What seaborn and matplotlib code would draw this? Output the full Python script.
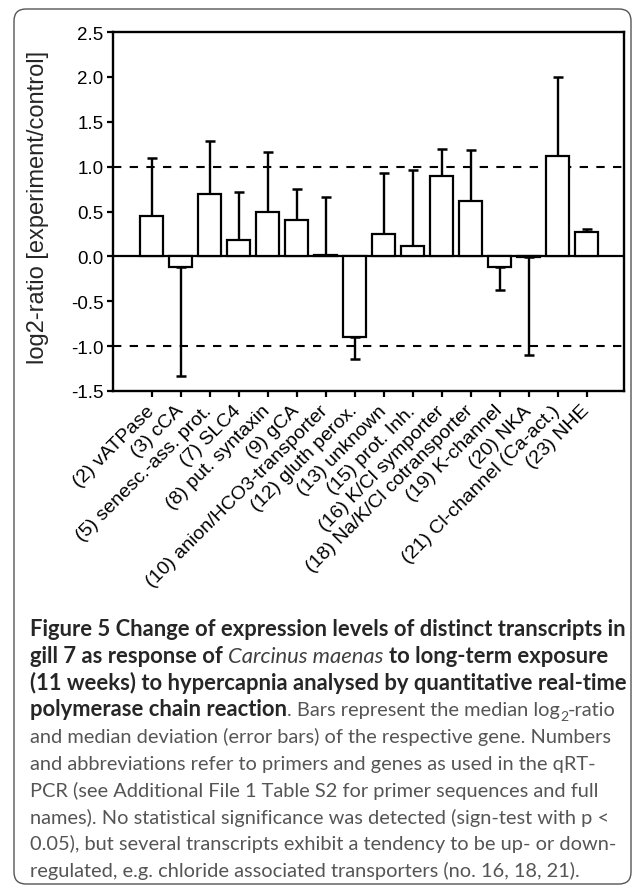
import numpy as np
import pandas as pd
import matplotlib
matplotlib.use("Agg")
import matplotlib.pyplot as plt
import seaborn as sns
from matplotlib.patches import FancyBboxPatch
from matplotlib.transforms import IdentityTransform

# ---------------- data ----------------
genes = ["(2) vATPase", "(3) cCA", "(5) senesc.-ass. prot.", "(7) SLC4",
         "(8) put. syntaxin", "(9) gCA", "(10) anion/HCO3-transporter",
         "(12) gluth perox.", "(13) unknown", "(15) prot. Inh.",
         "(16) K/Cl symporter", "(18) Na/K/Cl cotransporter", "(19) K-channel",
         "(20) NKA", "(21) Cl-channel (Ca-act.)", "(23) NHE"]
median_ratio = [0.45, -0.12, 0.69, 0.18, 0.49, 0.40, 0.02, -0.90,
                0.25, 0.12, 0.90, 0.62, -0.12, -0.01, 1.12, 0.27]
median_dev = [0.65, 1.21, 0.59, 0.54, 0.67, 0.35, 0.64, 0.24,
              0.68, 0.84, 0.30, 0.57, 0.26, 1.09, 0.88, 0.03]
y_ticks = [-1.5, -1.0, -0.5, 0.0, 0.5, 1.0, 1.5, 2.0, 2.5]
ref_lines = [-1.0, 1.0]

df = pd.DataFrame({"gene": genes, "ratio": median_ratio, "dev": median_dev})

# ---------------- figure ----------------
W, H = 633, 887
sns.set_style("ticks")
plt.rcParams["font.family"] = ["Liberation Sans", "DejaVu Sans"]
fig = plt.figure(figsize=(W / 100, H / 100), dpi=100)
fig.patch.set_facecolor("white")

ax_l, ax_r, ax_t, ax_b = 113, 624, 33, 392
ax = fig.add_axes([ax_l / W, 1 - ax_b / H, (ax_r - ax_l) / W, (ax_b - ax_t) / H])

sns.barplot(data=df, x="gene", y="ratio", color="white", saturation=1,
            edgecolor="black", linewidth=1.6, width=0.82, errorbar=None, ax=ax)
for p in ax.patches:
    p.set_zorder(4)

pos = np.arange(len(df))
lower = np.where(df["ratio"] < 0, df["dev"], 0.0)
upper = np.where(df["ratio"] >= 0, df["dev"], 0.0)
ax.errorbar(pos, df["ratio"], yerr=[lower, upper], fmt="none", ecolor="black",
            elinewidth=1.7, capsize=3.5, capthick=1.8, zorder=3)

ax.axhline(0, color="black", lw=1.6, zorder=2)
for v in ref_lines:
    ax.axhline(v, color="black", lw=1.5, ls=(0, (4, 4)), zorder=1)

ax.set_ylim(-1.5, 2.5)
ax.set_xlim(-1.33, len(df) - 1 + 1.29)
ax.set_yticks(y_ticks)
ax.set_yticklabels([f"{t:.1f}" for t in y_ticks])
ax.set_xticks(pos)
ax.set_xticklabels(genes, rotation=45, ha="right", va="center",
                   rotation_mode="anchor", fontsize=14)
ax.tick_params(axis="both", direction="out", length=4, width=1.6, color="black",
               top=False, right=False, labelcolor="black")
ax.tick_params(axis="y", labelsize=13.5, pad=3)
ax.tick_params(axis="x", pad=8)
for s in ax.spines.values():
    s.set_visible(True)
    s.set_linewidth(1.7)
    s.set_color("black")
ax.set_xlabel("")
ax.set_ylabel("log2-ratio [experiment/control]", fontsize=17, va="center")
ax.yaxis.set_label_coords((38 - ax_l) / (ax_r - ax_l), (ax_b - 207) / (ax_b - ax_t))

# ---------------- frame ----------------
frame = FancyBboxPatch((14, 2), 631 - 14, 877 - 2,
                       boxstyle="round,pad=0,rounding_size=12",
                       transform=IdentityTransform(), facecolor="none",
                       edgecolor="#555555", lw=1.0)
fig.add_artist(frame)

# ---------------- caption ----------------
FAM = ["Lato", "DejaVu Sans"]
B = dict(family=FAM, weight="bold", color="#262626")
I = dict(family=FAM, style="italic", color="#404040")
R = dict(family=FAM, weight="normal", color="#555555")

caption = [
    [("Figure 5 Change of expression levels of distinct transcripts in", B)],
    [("gill 7 as response of", B), (" ", B), ("Carcinus maenas", I), (" ", B),
     ("to long-term exposure", B)],
    [("(11 weeks) to hypercapnia analysed by quantitative real-time", B)],
    [("polymerase chain reaction", B), (". Bars represent the median log", R),
     ("2", "sub"), ("-ratio", R)],
    [("and median deviation (error bars) of the respective gene. Numbers", R)],
    [("and abbreviations refer to primers and genes as used in the qRT-", R)],
    [("PCR (see Additional File 1 Table S2 for primer sequences and full", R)],
    [("names). No statistical significance was detected (sign-test with p <", R)],
    [("0.05), but several transcripts exhibit a tendency to be up- or down-", R)],
    [("regulated, e.g. chloride associated transporters (no. 16, 18, 21).", R)],
]

renderer = fig.canvas.get_renderer()


def width_of(txt, style, fs):
    t = fig.text(0, 0, txt, fontsize=fs, **style)
    w = t.get_window_extent(renderer=renderer).width
    t.remove()
    return w


def space_w(style, fs):
    return width_of("x x", style, fs) - width_of("xx", style, fs)


fs0 = 12.0
fsB = fs0 * (620 - 30) / width_of(caption[0][0][0], B, fs0)
fsR = fs0 * (608 - 30) / width_of(caption[4][0][0], R, fs0)
size_of = {id(B): fsB, id(I): fsB, id(R): fsR}

x0, y0, dy = 30, 636, 26.8
for i, line in enumerate(caption):
    x = x0
    y = y0 + i * dy
    for txt, st in line:
        if st == "sub":
            t = fig.text(x / W, 1 - (y + fsR * 0.35) / H, txt, fontsize=fsR * 0.7,
                         ha="left", va="baseline", **R)
            x += t.get_window_extent(renderer=renderer).width
            continue
        fs = size_of[id(st)]
        if txt == " ":
            x += space_w(st, fs)
            continue
        lead = len(txt) - len(txt.lstrip(" "))
        if lead:
            x += lead * space_w(st, fs)
            txt = txt.lstrip(" ")
        t = fig.text(x / W, 1 - y / H, txt, fontsize=fs, ha="left", va="baseline", **st)
        x += t.get_window_extent(renderer=renderer).width

fig.savefig("out.png", dpi=100, facecolor="white")
